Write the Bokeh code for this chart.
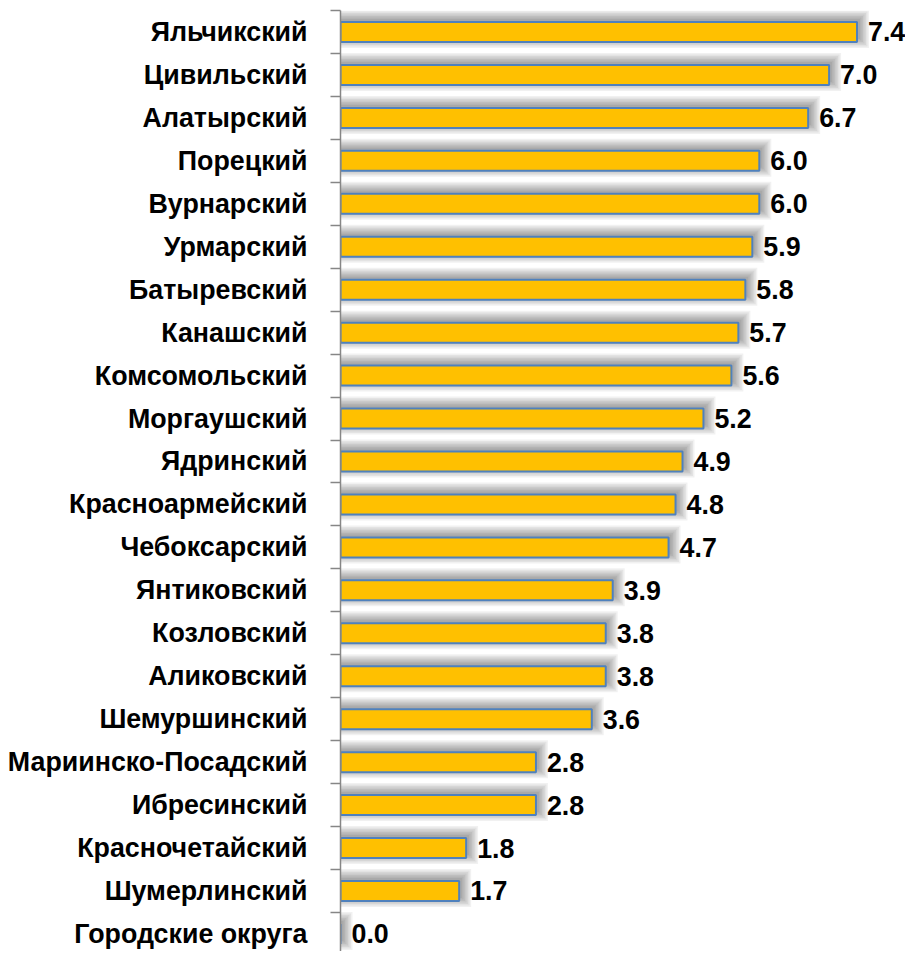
from bokeh.plotting import figure
from bokeh.models import Range1d, FixedTicker, ColumnDataSource, LabelSet
from bokeh.core.properties import value
from bokeh.embed import file_html
from bokeh.resources import INLINE

categories = ["Яльчикский", "Цивильский", "Алатырский", "Порецкий", "Вурнарский",
              "Урмарский", "Батыревский", "Канашский", "Комсомольский", "Моргаушский",
              "Ядринский", "Красноармейский", "Чебоксарский", "Янтиковский", "Козловский",
              "Аликовский", "Шемуршинский", "Мариинско-Посадский", "Ибресинский",
              "Красночетайский", "Шумерлинский", "Городские округа"]
values = [7.4, 7.0, 6.7, 6.0, 6.0, 5.9, 5.8, 5.7, 5.6, 5.2, 4.9, 4.8, 4.7,
          3.9, 3.8, 3.8, 3.6, 2.8, 2.8, 1.8, 1.7, 0.0]

n = len(categories)
ys = [n - 1 - i for i in range(n)]
labels = ["%.1f" % v for v in values]

FONT = "Liberation Sans"
W, H = 905, 951
LEFT, TOP = 340, 10
SX = 69.8          # px per unit
ROW = 42.95        # px per row
x_end = (W - LEFT) / SX
y_top = n - 0.5
y_bot = y_top - (H - TOP) / ROW

p = figure(width=W, height=H, output_backend="svg", toolbar_location=None,
           x_range=Range1d(0, x_end), y_range=Range1d(y_bot, y_top),
           min_border_left=LEFT, min_border_right=0, min_border_top=TOP,
           min_border_bottom=0, x_axis_location=None)
p.outline_line_color = None
p.xgrid.visible = False
p.ygrid.visible = False
p.background_fill_color = "white"
p.border_fill_color = "white"

BH = 20.0
bar_h = BH / ROW

# soft shadow (style layers)
for k in range(7):
    grow = k * 1.5
    src_s = ColumnDataSource(dict(
        y=[y + 3 / ROW for y in ys],
        right=[v + (3 + grow) / SX for v in values],
    ))
    p.hbar(y="y", right="right", left=0, height=(BH + 2 * grow) / ROW, source=src_s,
           fill_color="black", fill_alpha=0.055, line_color=None)

src = ColumnDataSource(dict(y=ys, v=values, lab=labels))
p.hbar(y="y", right="v", left=0, height=bar_h, source=src,
       fill_color="#FFC000", line_color="#4F81BD", line_width=2)

ls = LabelSet(x="v", y="y", text="lab", source=src, x_offset=11,
              text_font=value(FONT), text_font_style="bold", text_font_size="26.8px",
              text_color="black", text_baseline="middle", text_align="left")
p.add_layout(ls)

ax = p.yaxis[0]
ax.ticker = FixedTicker(ticks=ys, minor_ticks=[i - 0.5 for i in range(n + 1)])
ax.major_label_overrides = {y: c for y, c in zip(ys, categories)}
ax.major_tick_line_color = None
ax.major_tick_out = 0
ax.major_tick_in = 0
ax.minor_tick_out = 10
ax.minor_tick_in = 0
ax.minor_tick_line_color = "#868686"
ax.minor_tick_line_width = 1.5
ax.axis_line_color = "#868686"
ax.axis_line_width = 1.5
ax.major_label_standoff = 23
ax.major_label_text_font = FONT
ax.major_label_text_font_style = "bold"
ax.major_label_text_font_size = "26.8px"
ax.major_label_text_color = "black"

open("out.html", "w").write(file_html(p, INLINE))
